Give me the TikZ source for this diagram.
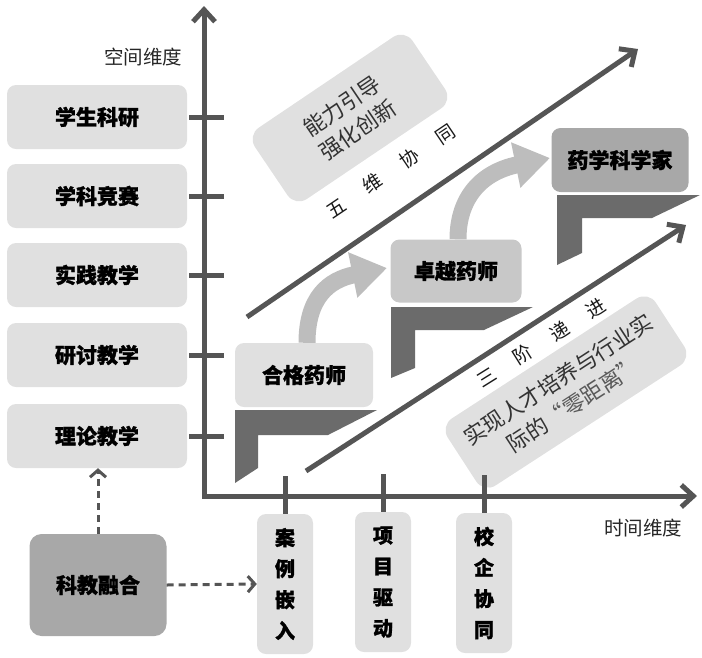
\documentclass[tikz,border=0pt]{standalone}
\usepackage{fontspec}
\setmainfont{Noto Sans CJK SC}[BoldFeatures={FakeBold=1.3}]
\usetikzlibrary{arrows.meta}
\definecolor{axisc}{HTML}{555555}
\definecolor{lightbox}{HTML}{E0E0E0}
\definecolor{midbox}{HTML}{C8C8C8}
\definecolor{darkbox}{HTML}{A8A8A8}
\definecolor{stepc}{HTML}{6B6B6B}
\definecolor{curvec}{HTML}{BDBDBD}
\definecolor{txtc}{HTML}{333333}
\begin{document}
\begin{tikzpicture}[x=1pt,y=-1pt,
  box/.style={rounded corners=9pt, fill=lightbox, inner sep=0pt, align=center,
    font=\fontsize{21}{25}\selectfont\bfseries, text=black},
  leftbox/.style={box, minimum width=180pt, minimum height=64pt},
  vbox/.style={box, minimum width=56pt, minimum height=140pt, font=\fontsize{20}{31}\selectfont\bfseries},
  axisline/.style={line width=5pt, draw=axisc},
  tick/.style={line width=5pt, draw=axisc},
  barb/.style={-{Straight Barb[length=12pt,width=22pt]}},
  dasharrow/.style={line width=3pt, draw=axisc, dashed, dash pattern=on 7pt off 5pt, -{Straight Barb[length=7pt,width=16pt]}},
  stepshape/.style={fill=stepc},
  curvearrow/.style={line width=17pt, draw=curvec, -{Triangle[length=35pt,width=44pt]}},
  rotbox/.style={rounded corners=14pt, fill=lightbox, inner sep=0pt, align=center,
    font=\fontsize{22}{29}\selectfont, text=txtc},
  axlabel/.style={font=\fontsize{19.5}{22}\selectfont, text=black!85},
  difftext/.style={font=\fontsize{19}{22}\selectfont, text=black!90}
]
\useasboundingbox (0,0) rectangle (702,657);

% left boxes
\node[leftbox] (b1) at (97,117) {学生科研};
\node[leftbox] (b2) at (97,196) {学科竞赛};
\node[leftbox] (b3) at (97,275) {实践教学};
\node[leftbox] (b4) at (97,355) {研讨教学};
\node[leftbox] (b5) at (97,436) {理论教学};

% bottom boxes
\node[vbox] (anli) at (285,584) {案\\例\\嵌\\入};
\node[vbox] (xiangmu) at (383,582) {项\\目\\驱\\动};
\node[vbox] (xiaoqi) at (484,583) {校\\企\\协\\同};
\node[box, fill=darkbox, minimum width=137pt, minimum height=102pt, rounded corners=12pt] (keji) at (98,585) {科教融合};

% axis labels
\node[axlabel, anchor=east] (ylab) at (186,57) {空间维度};
\node[axlabel] (xlab) at (643,528) {时间维度};

% rotated info boxes
\node[rotbox, rotate=34, minimum width=190pt, minimum height=86pt] (nengli) at (350,118) {能力引导\\强化创新};
\node[rotbox, rotate=33, minimum width=248pt, minimum height=80pt] (shixian) at (566,392) {实现人才培养与行业实\\际的{\color{black!65}“零距离”}};

% steps
\fill[stepc] (235,410) -- (377,410) -- (328,435) -- (258,435) -- (258,468) -- (235,483) -- cycle;
\fill[stepc] (391,307) -- (533,307) -- (484,330) -- (415,330) -- (415,368) -- (391,378) -- cycle;
\fill[stepc] (557,195) -- (700,195) -- (652,218) -- (582,218) -- (582,253) -- (557,265) -- cycle;

% stage boxes
\node[box, minimum width=138pt, minimum height=64pt] (hege) at (304,375) {合格药师};
\node[box, fill=midbox, minimum width=131pt, minimum height=63pt] (zhuoyue) at (456,271) {卓越药师};
\node[box, fill=darkbox, minimum width=137pt, minimum height=64pt] (kexuejia) at (620,160) {药学科学家};

% curved arrows
\draw[curvearrow] (hege.north -| 307,0) .. controls (307,298) and (328,280) .. (387,268);
\draw[curvearrow] (zhuoyue.north -| 458,0) .. controls (458,197) and (482,172) .. (550,158);

% axes
\coordinate (O) at (204,496);
\coordinate (ytop) at (204,6);
\coordinate (xend) at (697,496);
\draw[axisline, {Straight Barb[length=12pt,width=22pt]}-{Straight Barb[length=12pt,width=22pt]}] (ytop) -- (O) -- (xend);

% ticks
\foreach \b in {b1,b2,b3,b4,b5}{
  \draw[tick] ([xshift=2pt]\b.east) -- ++(35,0);
}
\foreach \b in {anli,xiangmu,xiaoqi}{
  \draw[tick] (\b.north) -- ++(0,-38);
}

% diagonal arrows
\coordinate (u1) at (247,317);
\coordinate (u2) at (638,49);
\coordinate (l1) at (306,471);
\coordinate (l2) at (686,225);
\draw[axisline, barb] (u1) -- (u2);
\draw[axisline, barb] (l1) -- (l2);

% diagonal labels
\node[difftext, rotate=34] (wuwei) at (391,171) {五\hspace{25pt}维\hspace{25pt}协\hspace{25pt}同};
\node[difftext, rotate=32] (sanjie) at (541,343) {三\hspace{24pt}阶\hspace{24pt}递\hspace{24pt}进};

% dashed arrows
\draw[dasharrow] (keji.north) -- (keji.north |- b5.south);
\draw[dasharrow] (keji.east) -- (anli.west);
\end{tikzpicture}
\end{document}
